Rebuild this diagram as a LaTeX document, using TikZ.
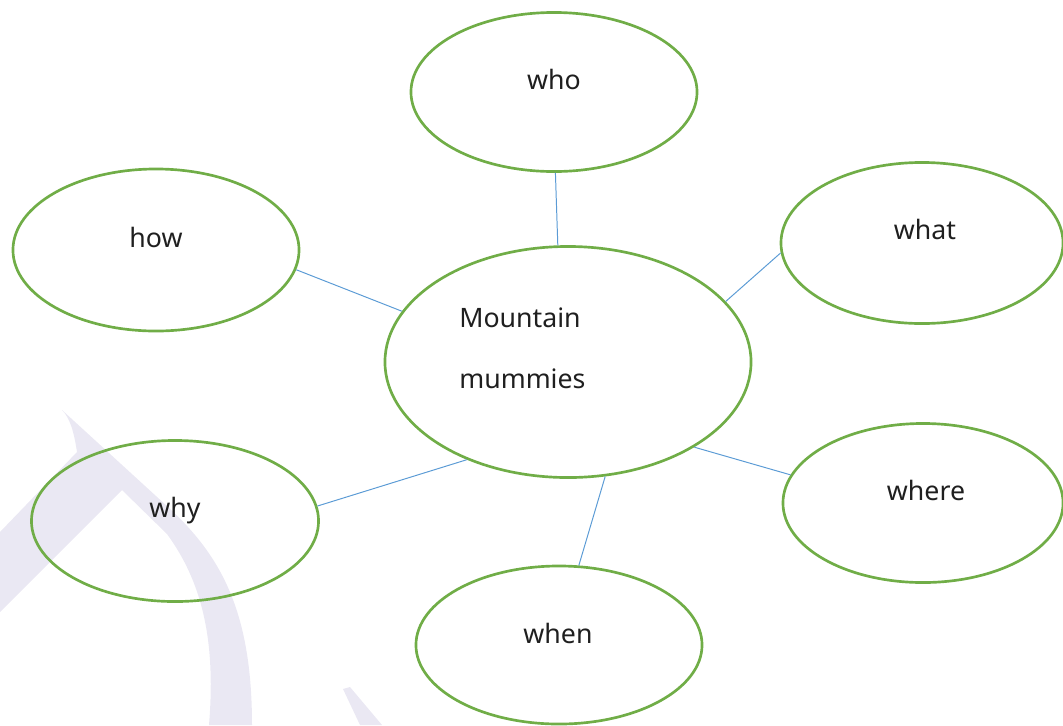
\documentclass[tikz,border=0pt]{standalone}
\usepackage{fontspec}
\setmainfont{Noto Sans}
\usepackage{xcolor}
\usepackage{tikz}
\definecolor{bubblegreen}{RGB}{112,173,71}
\definecolor{spokeblue}{RGB}{91,155,213}
\definecolor{markgray}{RGB}{234,232,243}
\tikzset{
    bubble/.style={ellipse, draw=bubblegreen, line width=1.9pt, inner sep=0pt},
    spoke/.style={draw=spokeblue, line width=0.7pt},
    word/.style={font=\fontsize{19}{23}\selectfont, text=black!88, anchor=base, inner sep=0pt},
    watermark/.style={fill=markgray}}
\usetikzlibrary{shapes.geometric,calc}

\begin{document}
\begin{tikzpicture}[x=0.025cm, y=-0.025cm]
    \useasboundingbox (0, 0) rectangle (1063, 725);
    \fill[watermark] (62, 410) -- (168, 507) .. controls (220, 555) and (252, 610) .. (252, 725)
        -- (209, 725) .. controls (216, 640) and (202, 582) .. (167, 534) -- (122, 490)
        -- (0, 612) -- (0, 532) -- (77, 452) .. controls (74, 432) and (70, 418) .. (62, 410) -- cycle;
    \fill[watermark] (343, 689) -- (350, 687) -- (382, 725) -- (360, 725) -- cycle;
    \node[bubble, minimum width=9.15cm, minimum height=5.775cm] at (568, 362) (topic) {};
    \node[bubble, minimum width=7.15cm, minimum height=3.975cm] at (554, 92) (who) {};
    \node[bubble, minimum width=7.15cm, minimum height=4.05cm] at (156, 250) (how) {};
    \node[bubble, minimum width=7.05cm, minimum height=4.025cm] at (922, 243) (what) {};
    \node[bubble, minimum width=7.0cm, minimum height=3.975cm] at (923, 503) (where) {};
    \node[bubble, minimum width=7.15cm, minimum height=3.95cm] at (559, 645) (when) {};
    \node[bubble, minimum width=7.175cm, minimum height=4.025cm] at (175, 521) (why) {};
    \node[word, anchor=base west, align=left, font=\fontsize{19}{42.7}\selectfont] at (459, 388) (topic-t) {Mountain\\mummies};
    \node[word] at (554, 89) (who-t) {who};
    \node[word] at (156, 247) (how-t) {how};
    \node[word] at (925, 239) (what-t) {what};
    \node[word] at (926, 500) (where-t) {where};
    \node[word] at (558, 643) (when-t) {when};
    \node[word] at (175, 517) (why-t) {why};
    \draw[spoke] (who.-89.3) -- (topic.95);
    \draw[spoke] (how.-8) -- (topic.163.7);
    \draw[spoke] (what.184) -- (topic.21.7);
    \draw[spoke] (where.168) -- (topic.-34.4);
    \draw[spoke] (when.76.3) -- (topic.-72.9);
    \draw[spoke] (why.6.3) -- (topic.-136);
  \end{tikzpicture}
\end{document}
